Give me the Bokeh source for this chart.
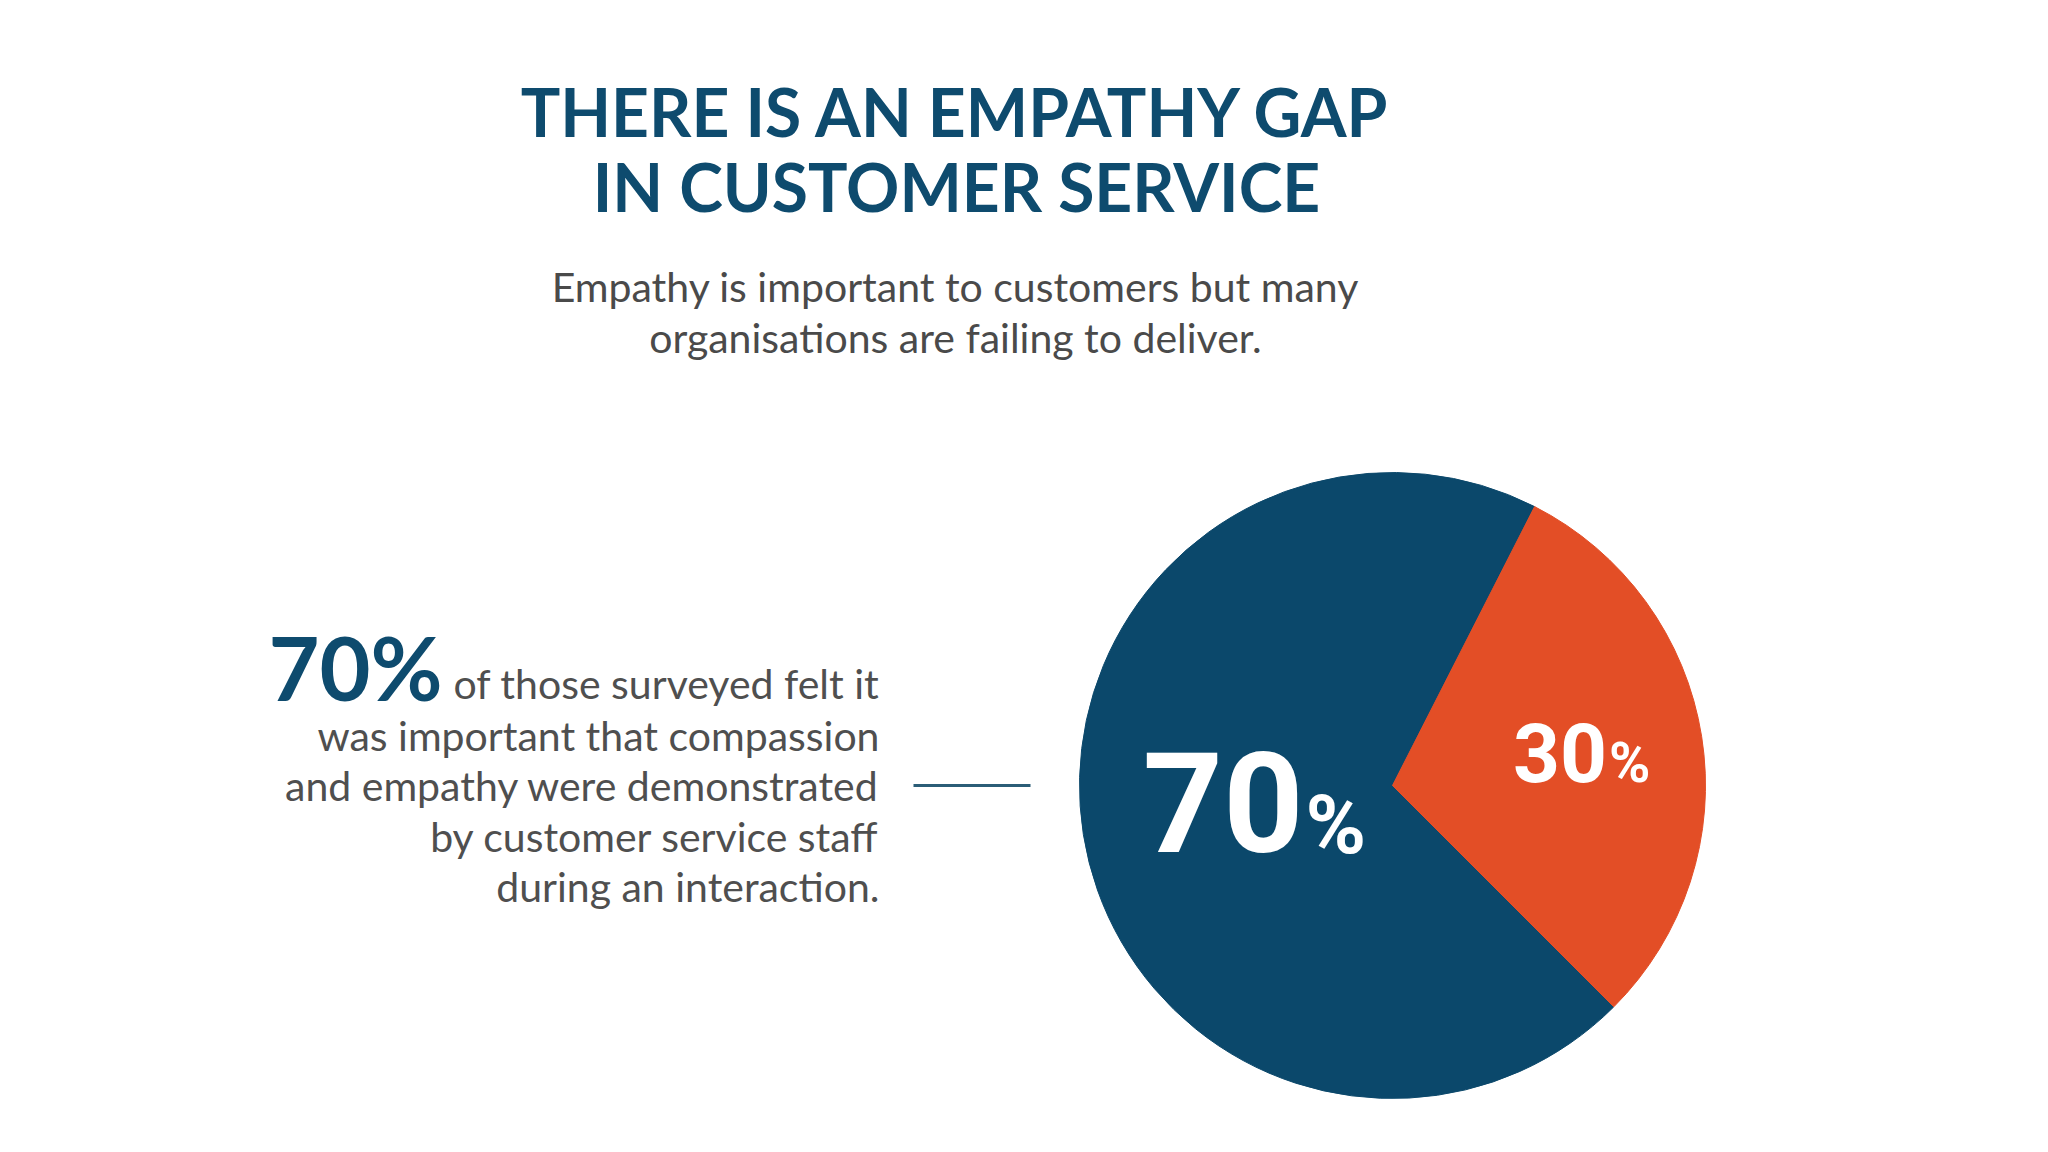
import math
from bokeh.plotting import figure
from bokeh.models import Range1d, ColumnDataSource
from bokeh.core.properties import value
from bokeh.embed import file_html
from bokeh.resources import INLINE

# ---------------- data ----------------
categories = ["Important", "Not important"]
shares = [70, 30]
slice_colors = ["#0b486b", "#e34e26"]
title_lines = ["THERE IS AN EMPATHY GAP", "IN CUSTOMER SERVICE"]
subtitle_lines = ["Empathy is important to customers but many",
                  "organisations are failing to deliver."]
headline_stat = "70%"
body_lines = ["of those surveyed felt it",
              "was important that compassion",
              "and empathy were demonstrated",
              "by customer service staff",
              "during an interaction."]

# ---------------- layout ----------------
W, H = 2048, 1152
FW, FH = W - 16, H - 16
BASE_K = 0.39  # baseline correction (em)

def Y(sy, size=0):  # screen baseline y -> data y
    return H - (sy - BASE_K * size)

cx, cy, R = 1392, H - 785, 313
start_deg = 63.0
label_frac = [0.44, 0.61]
num_sizes = [140, 82]
pct_sizes = [82, 56]
junction_dx = [47, 26]
half_cap = [50, 29]

p = figure(width=FW, height=FH,
           x_range=Range1d(0, FW), y_range=Range1d(H - FH, H),
           output_backend="svg", toolbar_location=None, min_border=0)
p.axis.visible = False
p.grid.visible = False
p.outline_line_color = None
p.background_fill_color = "#ffffff"
p.border_fill_color = "#ffffff"

# pie
total = sum(shares)
starts, ends = [], []
a = math.radians(start_deg)
for v in shares:
    starts.append(a)
    a += 2 * math.pi * v / total
    ends.append(a)
src = ColumnDataSource(dict(cat=categories, val=shares, start=starts, end=ends, color=slice_colors))
p.wedge(x=cx, y=cy, radius=R, start_angle="start", end_angle="end",
        fill_color="color", line_color="color", line_width=1, source=src)

# pie labels
for i, v in enumerate(shares):
    mid = (starts[i] + ends[i]) / 2
    lx = cx + label_frac[i] * R * math.cos(mid)
    ly = cy + label_frac[i] * R * math.sin(mid)
    jx = lx + junction_dx[i]
    by = ly - half_cap[i]
    p.text(x=[jx], y=[by + BASE_K * num_sizes[i]], text=[str(v)], text_font=value("Roboto"),
           text_font_style="bold", text_font_size=f"{num_sizes[i]}px", text_color="#ffffff",
           text_align="right", text_baseline="alphabetic")
    p.text(x=[jx + 2], y=[by + BASE_K * pct_sizes[i]], text=["%"], text_font=value("Roboto"),
           text_font_style="bold", text_font_size=f"{pct_sizes[i]}px", text_color="#ffffff",
           text_align="left", text_baseline="alphabetic")

# title
p.text(x=[956, 956], y=[Y(137, 66), Y(212, 66)], text=title_lines, text_font=value("Lato"),
       text_font_style="bold", text_font_size="66px", text_color="#0e4b6e",
       text_align="center", text_baseline="alphabetic")

# subtitle
p.text(x=[955, 955], y=[Y(302, 41), Y(353, 41)], text=subtitle_lines, text_font=value("Lato"),
       text_font_size="41px", text_color="#4a4a4a",
       text_align="center", text_baseline="alphabetic")

# headline stat
p.text(x=[268], y=[Y(701, 88)], text=[headline_stat], text_font=value("Lato"),
       text_font_style="bold", text_font_size="88px", text_color="#0e4b6e",
       text_align="left", text_baseline="alphabetic")

# body text
body_sy = [699, 751, 801, 852, 902]
p.text(x=[879] * len(body_lines), y=[Y(s, 41) for s in body_sy], text=body_lines,
       text_font=value("Lato"), text_font_size="41px", text_color="#4f4f4f",
       text_align="right", text_baseline="alphabetic")

# connector
p.segment(x0=[913], y0=[H - 785], x1=[1030], y1=[H - 785], line_color="#2b5d77", line_width=3)

open("out.html", "w").write(file_html(p, INLINE))
